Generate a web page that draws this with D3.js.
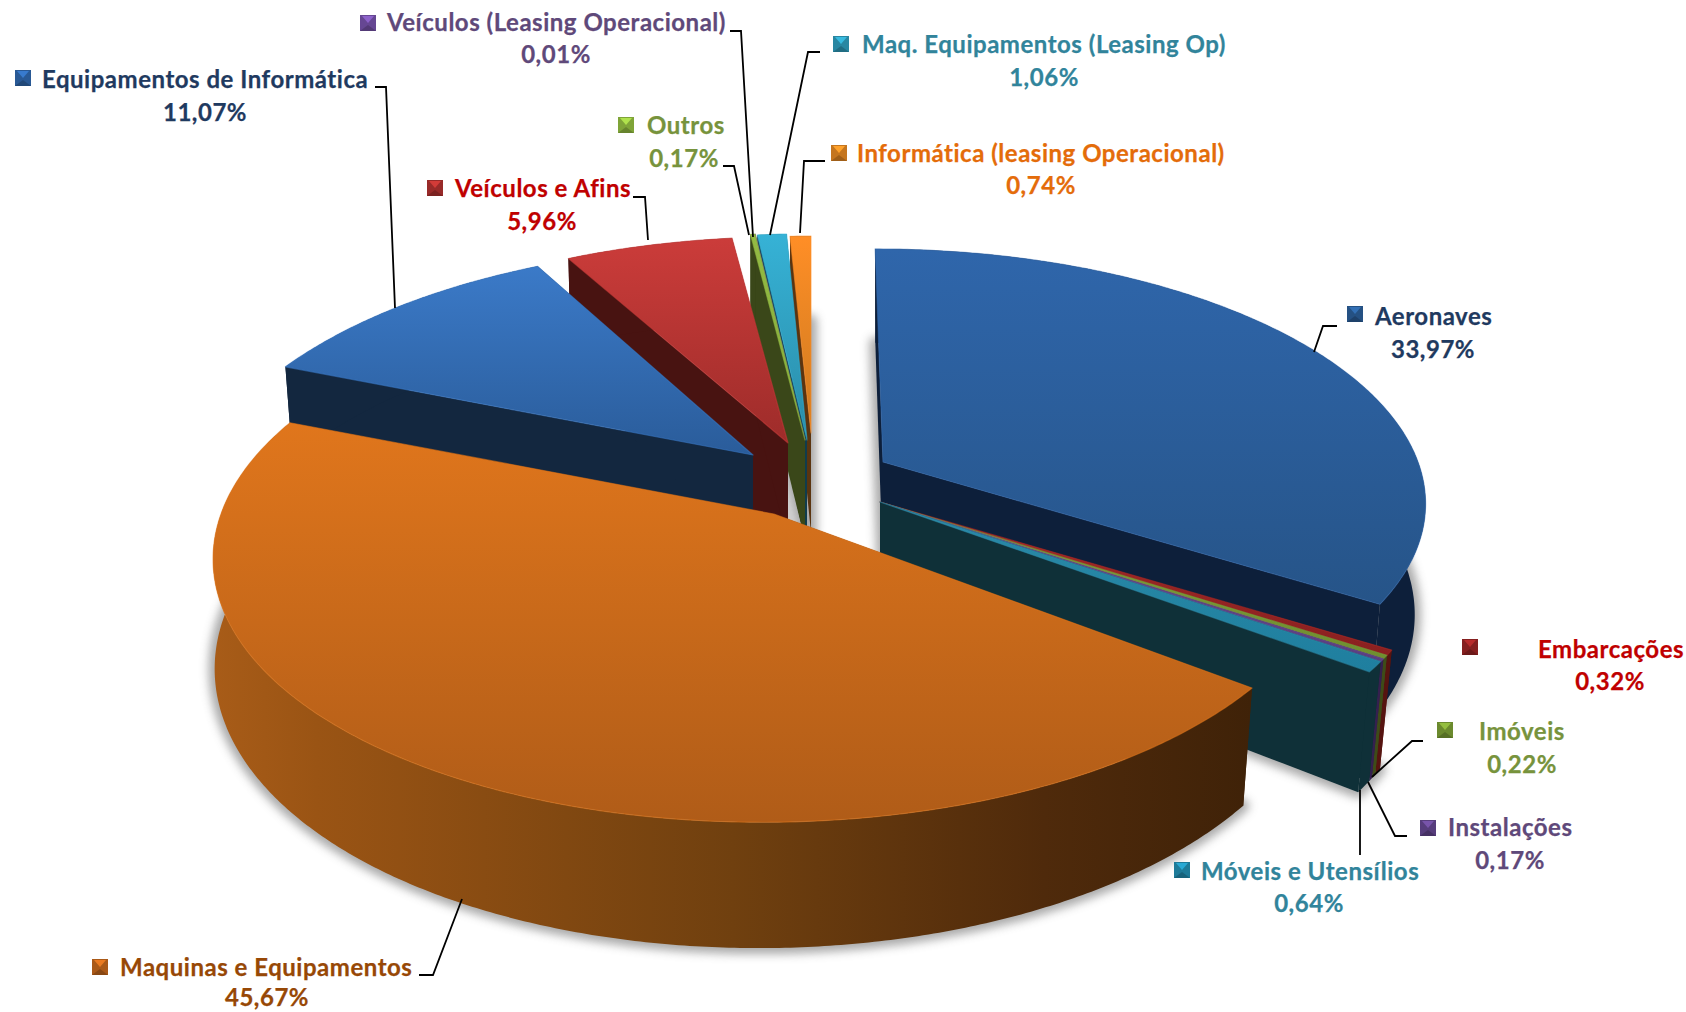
<!DOCTYPE html>
<html><head><meta charset="utf-8">
<script src="https://cdn.jsdelivr.net/npm/d3@7"></script>
<style>html,body{margin:0;padding:0;background:#fff}svg{display:block}text{font-family:Lato,"Open Sans",sans-serif;font-weight:700;letter-spacing:.52px;stroke-width:.25px}</style>
</head><body><svg id="c" width="1686" height="1012"></svg>
<script>
// ---- data (clockwise from 12 o'clock) ----
const categories = ["Aeronaves","Embarcações","Imóveis","Instalações","Móveis e Utensílios","Maquinas e Equipamentos","Equipamentos de Informática","Veículos e Afins","Outros","Veículos (Leasing Operacional)","Maq. Equipamentos (Leasing Op)","Informática (leasing Operacional)"];
const values = [33.97,0.32,0.22,0.17,0.64,45.67,11.07,5.96,0.17,0.01,1.06,0.74];

// ---- styles & layout, same order as categories ----
const topLight = ["#2f66ab","#a52a28","#7f9f3a","#6a4a90","#2b8aa8","#e0761c","#3b7ac8","#cb3c3a","#94bb44","#7a5aa8","#36b2d6","#ff8e26"];
const topDark  = ["#265488","#8a2020","#6f8f30","#5a3f80","#1f7f9f","#b05c18","#2a5c9a","#9e2c2a","#84aa3a","#6a4a98","#2a8ca8","#cc7a20"];
const wallCol  = ["#0d1f3a","#561410","#3e4c18","#35204f","#0f3038","#6a3a10","#13273f","#481311","#3a4719","#35204f","#103c4c","#5a3410"];
const textCol  = ["#1f3a60","#c00000","#77933c","#5f497a","#31849b","#974806","#1f3a60","#c00000","#77933c","#5f497a","#31849b","#e46c0a"];
const geoBlue={cx:883,cy:462,A:535,B:245,C:-9,D:108,t:.98,k:.15,bx:0},geoSmall={cx:880,cy:502,A:546,B:250,C:0,D:107,t:.977,k:.1836,bx:0},
      geoOrange={cx:774,cy:514,A:553,B:262,C:10,D:107,t:.99,k:.15,bx:-4},geoEquip={cx:753,cy:455,A:549,B:262,C:0,D:100,t:.985,k:.25,bx:0},
      geoRed={cx:788,cy:443,A:533,B:244,C:0,D:100,t:.99,k:.1836,bx:0},geoOut={cx:805,cy:440,A:520,B:245,C:0,D:100,t:1,k:.1836,bx:0},
      geoMaq={cx:807,cy:440,A:520,B:244,C:0,D:100,t:1,k:.1836,bx:0},geoInfo={cx:811,cy:433,A:534,B:233,C:0,D:100,t:1,k:.1836,bx:0};
const geo=[geoBlue,geoSmall,geoSmall,geoSmall,geoSmall,geoOrange,geoEquip,geoRed,geoOut,geoOut,geoMaq,geoInfo];
const drawOrder=[11,10,9,8,7,6,0,1,2,3,4,5];
// key box [x,y], text start, baseline, pct centre, pct baseline
const labelPos=[[1347,306,1375,325,1433,358],[1462,639,1538,658,1610,690],[1437,722,1479,740,1522,773],[1420,820,1448,836,1510,869],
 [1174,862,1201,880,1309,912],[92,959,120,976,267,1006],[15,70,42,88,205,121],[427,180,455,197,542,230],[618,117,647,134,684,167],
 [360,15,387,31,556,63],[833,36,862,53,1044,86],[831,145,857,162,1041,194]];
const leaders=[[[1337,326],[1323,326],[1314,352]],[[1423,741],[1412,741],[1372,777]],[[1407,836],[1395,836],[1368,782]],[[1360,790],[1360,855]],
 [[419,975],[433,975],[462,899]],[[375,87],[386,87],[395,308]],[[633,197],[645,197],[648,240]],[[723,166],[734,166],[749,235]],
 [[730,31],[741,31],[753,237]],[[820,52],[808,52],[770,235]],[[825,161],[804,161],[800,233]]];

const svg=d3.select("#c"), defs=svg.append("defs");
defs.append("filter").attr("id","blur").attr("x","-10%").attr("y","-10%").attr("width","120%").attr("height","120%")
  .append("feGaussianBlur").attr("stdDeviation",5);
const arcs=d3.pie().sort(null).value(d=>d).startAngle(0).endAngle(2*Math.PI)(values);

function grad(id,dir,stops){
  const g=defs.append("linearGradient").attr("id",id).attr("x1",0).attr("y1",0).attr("x2",dir?1:0).attr("y2",dir?0:1);
  stops.forEach(([o,c])=>g.append("stop").attr("offset",o).attr("stop-color",c));
  return `url(#${id})`;
}
function P(g,a,low){
  const s=Math.sin(a),c=Math.cos(a),w=1+g.k*c;
  let x=(g.A*s+g.C*c)/w, y=-g.B*c/w;
  if(low){x=x*g.t+g.bx;y+=g.D/w;}
  return [g.cx+x,g.cy+y];
}
function apex(g,low){return [g.cx+(low?g.bx:0),g.cy+(low?g.D:0)];}
function arcPts(g,a0,a1,low){
  const n=Math.max(2,Math.ceil((a1-a0)/(Math.PI/360)));
  return d3.range(n+1).map(i=>P(g,a0+(a1-a0)*i/n,low));
}
const closed=d3.line().curve(d3.curveLinearClosed);

const shadow=svg.append("g").attr("filter","url(#blur)").attr("opacity",.5);
arcs.forEach((d,i)=>{
  const g=geo[i];
  shadow.append("path").attr("d",closed([apex(g,1),...arcPts(g,d.startAngle,d.endAngle,1)]))
    .attr("fill","#555").attr("stroke","#555").attr("stroke-width",12).attr("stroke-linejoin","round");
});

const pie=svg.append("g");
const orangeWall=grad("ow",1,[[0,"#a85c18"],[.1,"#9a5414"],[.5,"#70400f"],[.8,"#4f2a0b"],[1,"#3f2208"]]);
drawOrder.forEach(i=>{
  const d=arcs[i],g=geo[i],a0=d.startAngle,a1=d.endAngle;
  [a0,a1].forEach(a=>pie.append("path")
    .attr("d",closed([apex(g,0),P(g,a,0),P(g,a,1),apex(g,1)]))
    .attr("fill",i===5?"#40220a":wallCol[i]));
  pie.append("path")
    .attr("d",closed([...arcPts(g,a0,a1,0),...arcPts(g,a0,a1,1).reverse()]))
    .attr("fill",i===5?orangeWall:wallCol[i]);
  const top=grad("t"+i,0,[[0,topLight[i]],[1,topDark[i]]]);
  pie.append("path").attr("d",closed([apex(g,0),...arcPts(g,a0,a1,0)]))
    .attr("fill",top).attr("stroke",topLight[i]).attr("stroke-opacity",.55).attr("stroke-width",1.2).attr("stroke-linejoin","round");
});

const lead=svg.append("g");
leaders.forEach(l=>lead.append("path").attr("d",d3.line()(l)).attr("fill","none").attr("stroke","#000").attr("stroke-width",1.8));

const lab=svg.append("g");
const fmt=v=>v.toFixed(2).replace(".",",")+"%";
categories.forEach((c,i)=>{
  const [kx,ky,tx,b1,pc,b2]=labelPos[i], S=16, base=d3.color(topDark[i]);
  const k=lab.append("g").attr("transform",`translate(${kx},${ky})`);
  k.append("rect").attr("width",S).attr("height",S).attr("fill",base.darker(.1));
  k.append("path").attr("d",`M0,${S}L${S/2},${S-6}L${S},${S}Z`).attr("fill",base.darker(.7));
  k.append("path").attr("d",`M2,1L${S-2},1L${S/2},${S/2}Z`).attr("fill",base.brighter(.8));
  const st=d3.color(textCol[i]);
  lab.append("text").attr("x",tx).attr("y",b1).attr("font-size",24).attr("fill",st).attr("stroke",st).text(c);
  lab.append("text").attr("x",pc).attr("y",b2).attr("font-size",24).attr("text-anchor","middle").attr("fill",st).attr("stroke",st).text(fmt(values[i]));
});
</script></body></html>
